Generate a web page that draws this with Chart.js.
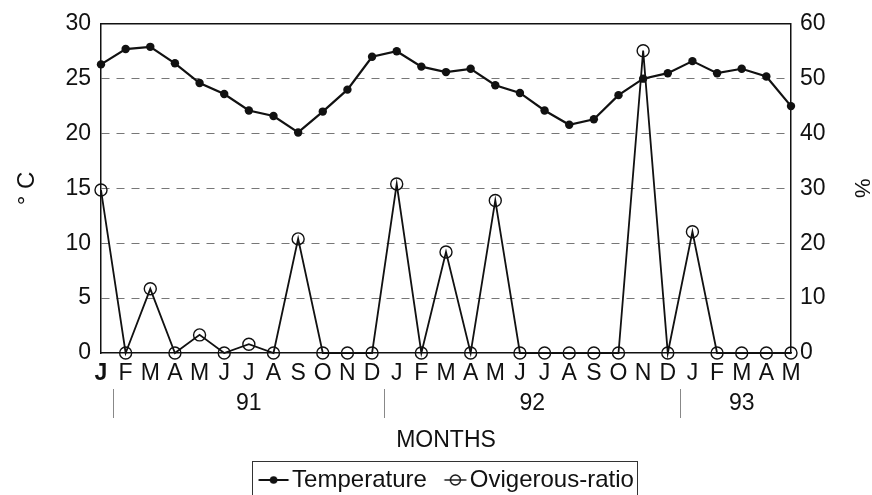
<!DOCTYPE html>
<html>
<head>
<meta charset="utf-8">
<script src="https://cdn.jsdelivr.net/npm/chart.js@4.4.1/dist/chart.umd.min.js"></script>
<style>
  html, body { margin: 0; padding: 0; background: #fff; }
  #wrap { width: 872px; height: 495px; }
</style>
</head>
<body>
<div id="wrap"><canvas id="chart"></canvas></div>
<script>
// Months Jan 1991 .. May 1993
const months = ['J', 'F', 'M', 'A', 'M', 'J', 'J', 'A', 'S', 'O', 'N', 'D',
                'J', 'F', 'M', 'A', 'M', 'J', 'J', 'A', 'S', 'O', 'N', 'D',
                'J', 'F', 'M', 'A', 'M'];

// Water temperature (°C, left axis)
const temperature = [26.3, 27.7, 27.9, 26.4, 24.6, 23.6, 22.1, 21.6, 20.1, 22.0, 24.0, 27.0,
                     27.5, 26.1, 25.6, 25.9, 24.4, 23.7, 22.1, 20.8, 21.3, 23.5, 25.0, 25.5,
                     26.6, 25.5, 25.9, 25.2, 22.5];

// Ovigerous females ratio (%, right axis)
const ovigerous = [29.7, 0, 11.7, 0, 3.3, 0, 1.6, 0, 20.8, 0, 0, 0,
                   30.8, 0, 18.4, 0, 27.8, 0, 0, 0, 0, 0, 55.1, 0,
                   22.1, 0, 0, 0, 0];

// Year row under the month letters
const years = ['91', '92', '93'];
const yearDividers = [0.5, 11.5, 23.5];

const FONT = "'Liberation Sans', Arial, sans-serif";
const INK = '#111';

// little legend markers: line + dot / line + open circle
function makeMarker(filled) {
    const c = document.createElement('canvas');
    c.width = 36;
    c.height = 14;
    const g = c.getContext('2d');
    g.strokeStyle = INK;
    g.fillStyle = INK;
    g.beginPath();
    if (filled) {
        g.lineWidth = 2;
        g.moveTo(4.5, 7);
        g.lineTo(34.5, 7);
        g.stroke();
        g.beginPath();
        g.arc(19.5, 7, 3.8, 0, Math.PI * 2);
        g.fill();
    } else {
        g.lineWidth = 1.4;
        g.moveTo(12.5, 7);
        g.lineTo(34.5, 7);
        g.stroke();
        g.beginPath();
        g.arc(23.5, 7, 5, 0, Math.PI * 2);
        g.stroke();
    }
    return c;
}
const markers = [makeMarker(true), makeMarker(false)];

// Draws the year separators / labels and the frame round the legend
const extrasPlugin = {
    id: 'extras',
    afterDraw(chart) {
        const { ctx } = chart;
        const x = chart.scales.x;
        const edges = yearDividers.concat([months.length - 0.5]);

        ctx.save();
        ctx.strokeStyle = '#888';
        ctx.lineWidth = 1;
        yearDividers.forEach(v => {
            const px = Math.round(x.getPixelForValue(v)) + 0.5;
            ctx.beginPath();
            ctx.moveTo(px, x.top + 36);
            ctx.lineTo(px, x.top + 65);
            ctx.stroke();
        });

        ctx.fillStyle = INK;
        ctx.font = '23px ' + FONT;
        ctx.textAlign = 'center';
        ctx.textBaseline = 'middle';
        years.forEach((y, i) => {
            const px = x.getPixelForValue((edges[i] + edges[i + 1]) / 2);
            ctx.fillText(y, px, x.top + 51);
        });

        const boxes = chart.legend && chart.legend.legendHitBoxes;
        if (boxes && boxes.length) {
            const first = boxes[0];
            const last = boxes[boxes.length - 1];
            const left = first.left - 12;
            const right = last.left + last.width + 3;
            const top = Math.round(first.top + first.height / 2 - 19.5) + 0.5;
            ctx.strokeStyle = '#333';
            ctx.lineWidth = 1;
            ctx.strokeRect(Math.round(left) + 0.5, top, Math.round(right - left), 60);
        }
        ctx.restore();
    }
};

new Chart(document.getElementById('chart'), {
    type: 'line',
    data: {
        labels: months,
        datasets: [{
            label: 'Temperature',
            data: temperature,
            yAxisID: 'y',
            borderColor: INK,
            borderWidth: 2.2,
            pointRadius: 4.2,
            pointBackgroundColor: INK,
            pointBorderColor: INK,
            pointBorderWidth: 0,
            tension: 0,
            clip: false
        }, {
            label: 'Ovigerous-ratio',
            data: ovigerous,
            yAxisID: 'y2',
            borderColor: INK,
            borderWidth: 1.8,
            pointRadius: 6,
            pointBackgroundColor: 'rgba(0,0,0,0)',
            pointBorderColor: INK,
            pointBorderWidth: 1.4,
            tension: 0,
            clip: false
        }]
    },
    options: {
        responsive: true,
        maintainAspectRatio: false,
        animation: false,
        layout: {
            padding: { top: 21, left: 26, right: 0, bottom: -7 }
        },
        plugins: {
            tooltip: { enabled: false },
            legend: {
                position: 'bottom',
                labels: {
                    color: INK,
                    font: { family: FONT, size: 24 },
                    padding: 15,
                    usePointStyle: true,
                    pointStyleWidth: 16,
                    generateLabels: (chart) => {
                        const items = Chart.defaults.plugins.legend.labels.generateLabels(chart);
                        items.forEach((it, i) => { it.pointStyle = markers[i]; });
                        return items;
                    }
                }
            }
        },
        scales: {
            x: {
                type: 'category',
                offset: false,
                grid: { display: false, drawTicks: false },
                border: { color: INK, width: 1.5 },
                ticks: {
                    autoSkip: false,
                    maxRotation: 0,
                    padding: 7,
                    color: INK,
                    font: (c) => ({ family: FONT, size: 23, weight: c.index === 0 ? 'bold' : 'normal' })
                },
                title: {
                    display: true,
                    text: 'MONTHS',
                    color: INK,
                    font: { family: FONT, size: 23 },
                    padding: { top: 0, bottom: -1.5 }
                },
                afterFit: (scale) => { scale.height = 100; }
            },
            y: {
                position: 'left',
                min: 0,
                max: 30,
                grid: {
                    drawTicks: false,
                    lineWidth: 1,
                    color: (c) => (c.tick && (c.tick.value === 0 || c.tick.value === 30)) ? 'rgba(0,0,0,0)' : '#777'
                },
                border: { color: INK, width: 1.5, dash: [8, 7] },
                ticks: {
                    stepSize: 5,
                    padding: 10,
                    color: INK,
                    font: { family: FONT, size: 23 }
                },
                title: {
                    display: true,
                    text: '° C',
                    color: INK,
                    font: { family: FONT, size: 24 },
                    padding: { top: -13, bottom: 0 }
                },
                afterFit: (scale) => { scale.width = 75; }
            },
            y2: {
                position: 'right',
                min: 0,
                max: 60,
                grid: {
                    drawTicks: false,
                    lineWidth: 1.5,
                    color: (c) => (c.tick && c.tick.value === 60) ? INK : 'rgba(0,0,0,0)'
                },
                border: { color: INK, width: 1.5 },
                ticks: {
                    stepSize: 10,
                    padding: 9,
                    color: INK,
                    font: { family: FONT, size: 23 }
                },
                title: {
                    display: true,
                    text: '%',
                    color: INK,
                    font: { family: FONT, size: 22, lineHeight: 1 },
                    padding: { top: 0, bottom: 0 }
                },
                afterFit: (scale) => { scale.width = 81; }
            }
        }
    },
    plugins: [extrasPlugin]
});
</script>
</body>
</html>
